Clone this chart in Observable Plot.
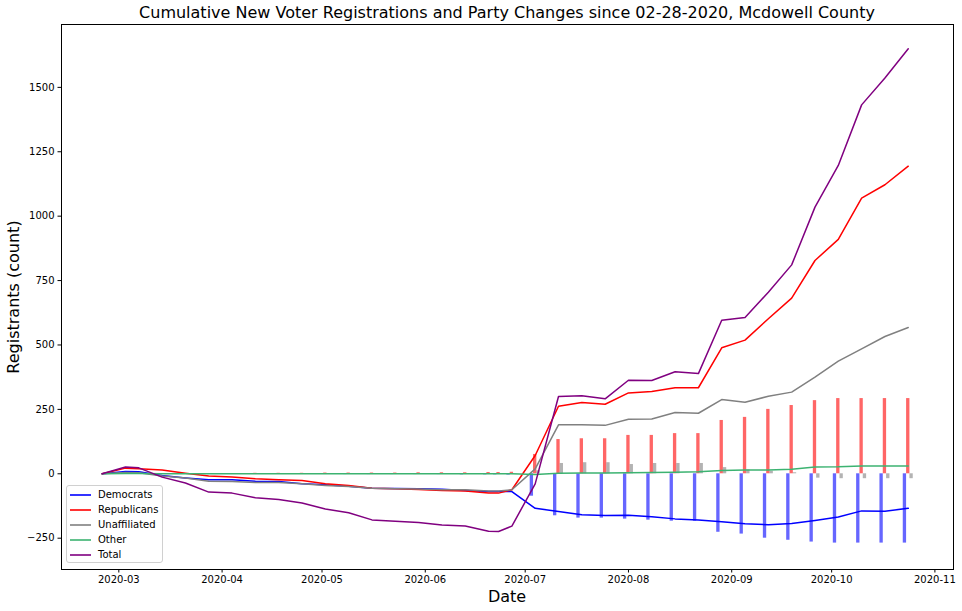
<!DOCTYPE html>
<html><head><meta charset="utf-8">
<script src="https://cdn.jsdelivr.net/npm/d3@7"></script>
<script src="https://cdn.jsdelivr.net/npm/@observablehq/plot@0.6"></script>
<style>
body{margin:0;background:#fff;font-family:"DejaVu Sans",sans-serif;}
#wrap{position:relative;width:962px;height:611px;overflow:hidden;}
.title{position:absolute;left:61px;width:892px;top:3px;line-height:20px;text-align:center;font-size:16px;color:#000;}
.xlabel{position:absolute;left:61px;width:892px;top:587px;line-height:20px;text-align:center;font-size:16px;color:#000;}
.ylabel{position:absolute;left:14px;top:296.5px;width:300px;margin-left:-150px;line-height:20px;margin-top:-10px;text-align:center;font-size:16px;color:#000;transform:rotate(-90deg);}
.legend{position:absolute;left:66px;top:485px;width:95px;height:76px;border:1px solid #d0d0d0;border-radius:3px;background:rgba(255,255,255,0.8);}
.legend .row{position:absolute;left:0;height:15px;width:95px;}
.legend .swatch{position:absolute;left:3px;top:6.5px;width:21px;height:2px;opacity:0.8;}
.legend .lab{position:absolute;left:31px;top:0;line-height:15px;font-size:10px;color:#000;white-space:nowrap;}
</style></head><body>
<div id="wrap">
<div id="chart"></div>
<div class="title">Cumulative New Voter Registrations and Party Changes since 02-28-2020, Mcdowell County</div>
<div class="xlabel">Date</div>
<div class="ylabel">Registrants (count)</div>
<div class="legend" id="legend"></div>
</div>
<script>
const dates = ["2020-02-25","2020-03-03","2020-03-07","2020-03-14","2020-03-21","2020-03-28","2020-04-04","2020-04-11","2020-04-18","2020-04-25","2020-05-02","2020-05-09","2020-05-16","2020-05-23","2020-05-30","2020-06-06","2020-06-13","2020-06-20","2020-06-23","2020-06-27","2020-07-04","2020-07-11","2020-07-18","2020-07-25","2020-08-01","2020-08-08","2020-08-15","2020-08-22","2020-08-29","2020-09-05","2020-09-12","2020-09-19","2020-09-26","2020-10-03","2020-10-10","2020-10-17","2020-10-24"];

const democrats    = [0, 9, 8, -7, -16, -23, -23, -29, -30, -39, -43, -48, -56, -57, -58, -60, -65, -69, -69, -69, -134, -146, -159, -162, -161, -167, -175, -179, -186, -194, -198, -193, -181, -168, -144, -145, -134];
const republicans  = [0, 22, 20, 15, 2, -9, -12, -19, -23, -26, -39, -45, -56, -58, -61, -65, -67, -75, -75, -62, 71, 262, 277, 270, 314, 319, 334, 334, 489, 519, 602, 682, 828, 910, 1070, 1122, 1194];
const unaffiliated = [0, 5, 4, -9, -16, -29, -30, -34, -34, -39, -45, -49, -56, -58, -59, -62, -62, -67, -67, -62, 19, 190, 190, 188, 212, 213, 238, 235, 288, 278, 301, 317, 375, 437, 485, 533, 568];
const other        = [0, 1, 1, 0, 0, 0, 0, 0, 0, 0, 0, 0, 0, 0, 0, 0, 0, 0, 0, 0, -3, 2, 3, 3, 4, 5, 6, 8, 13, 15, 15, 18, 26, 27, 30, 30, 30];
const total        = [0, 26, 23, -13, -36, -71, -75, -93, -100, -113, -137, -151, -179, -184, -189, -199, -203, -223, -224, -203, -39, 300, 303, 291, 363, 362, 396, 389, 596, 607, 705, 811, 1035, 1197, 1432, 1536, 1650];

// cumulative party changes (bars)
const demChanges   = [0, 0, 0, 0, 0, -1, -1, -2, -2, -2, -2, -3, -3, -3, -3, -3, -4, -4, -4, -5, -87, -163, -172, -172, -176, -180, -184, -184, -227, -234, -250, -258, -265, -269, -269, -269, -269];
const repChanges   = [0, 0, 0, 0, 0, 1, 1, 2, 2, 2, 3, 3, 3, 3, 4, 4, 4, 5, 5, 6, 75, 133, 136, 136, 149, 149, 156, 156, 207, 219, 250, 265, 284, 292, 292, 292, 292];
const unaChanges   = [0, 0, 0, 0, 0, 0, 0, 0, 1, 1, 1, 1, 1, 1, 1, 1, 1, 1, 1, 1, 12, 40, 43, 43, 36, 40, 40, 40, 24, 15, 10, 4, -17, -19, -19, -19, -19];

const yTicks = [-250, 0, 250, 500, 750, 1000, 1250, 1500];
const xTickLabels = ["2020-03","2020-04","2020-05","2020-06","2020-07","2020-08","2020-09","2020-10","2020-11"];

const series = [
  {name: "Democrats", values: democrats, color: "#0000ff"},
  {name: "Republicans", values: republicans, color: "#ff0000"},
  {name: "Unaffiliated", values: unaffiliated, color: "#808080"},
  {name: "Other", values: other, color: "#3cb371"},
  {name: "Total", values: total, color: "#800080"}
];
const barSeries = [
  {name: "Democrats", values: demChanges, color: "#0000ff", shift: -1},
  {name: "Republicans", values: repChanges, color: "#ff0000", shift: 0},
  {name: "Unaffiliated", values: unaChanges, color: "#808080", shift: 1}
];

const parse = s => new Date(s + "T00:00:00Z");
const day = 864e5;
const xTicks = xTickLabels.map(s => parse(s + "-01"));

const barMarks = barSeries.map(b => {
  const data = dates.map((d, i) => ({date: parse(d), value: b.values[i]}));
  return Plot.rectY(data, {
    x1: d => new Date(+d.date + (b.shift - 0.5) * day),
    x2: d => new Date(+d.date + (b.shift + 0.5) * day),
    y1: 0, y2: "value",
    fill: b.color, fillOpacity: 0.6
  });
});
const lineMarks = series.map(s => {
  const data = dates.map((d, i) => ({date: parse(d), value: s.values[i]}));
  return Plot.line(data, {x: "date", y: "value", stroke: s.color, strokeWidth: 1.5, curve: "linear"});
});

const chart = Plot.plot({
  width: 962, height: 611,
  marginTop: 24, marginBottom: 42, marginLeft: 61, marginRight: 9,
  x: {type: "utc", domain: [new Date("2020-02-12T19:00:00Z"), new Date("2020-11-06T14:00:00Z")]},
  y: {domain: [-371.5, 1744]},
  style: {fontFamily: "DejaVu Sans", fontSize: "10px", color: "#000", background: "transparent", overflow: "visible"},
  marks: [
    ...barMarks,
    ...lineMarks,
    Plot.axisX({ticks: xTicks, tickFormat: d3.utcFormat("%Y-%m"), tickSize: 3.5, tickPadding: 3, label: null, fontSize: 10}),
    Plot.axisY({ticks: yTicks, tickFormat: d => (d < 0 ? "\u2212" : "") + Math.abs(d), tickSize: 3.5, tickPadding: 3.5, label: null, fontSize: 10}),
    Plot.frame({stroke: "#000", strokeWidth: 1})
  ]
});
document.getElementById("chart").appendChild(chart);

const legend = document.getElementById("legend");
series.forEach((s, i) => {
  const row = document.createElement("div");
  row.className = "row";
  row.style.top = (1 + i * 15) + "px";
  row.innerHTML = `<div class="swatch" style="background:${s.color}"></div><div class="lab">${s.name}</div>`;
  legend.appendChild(row);
});
</script>
</body></html>
